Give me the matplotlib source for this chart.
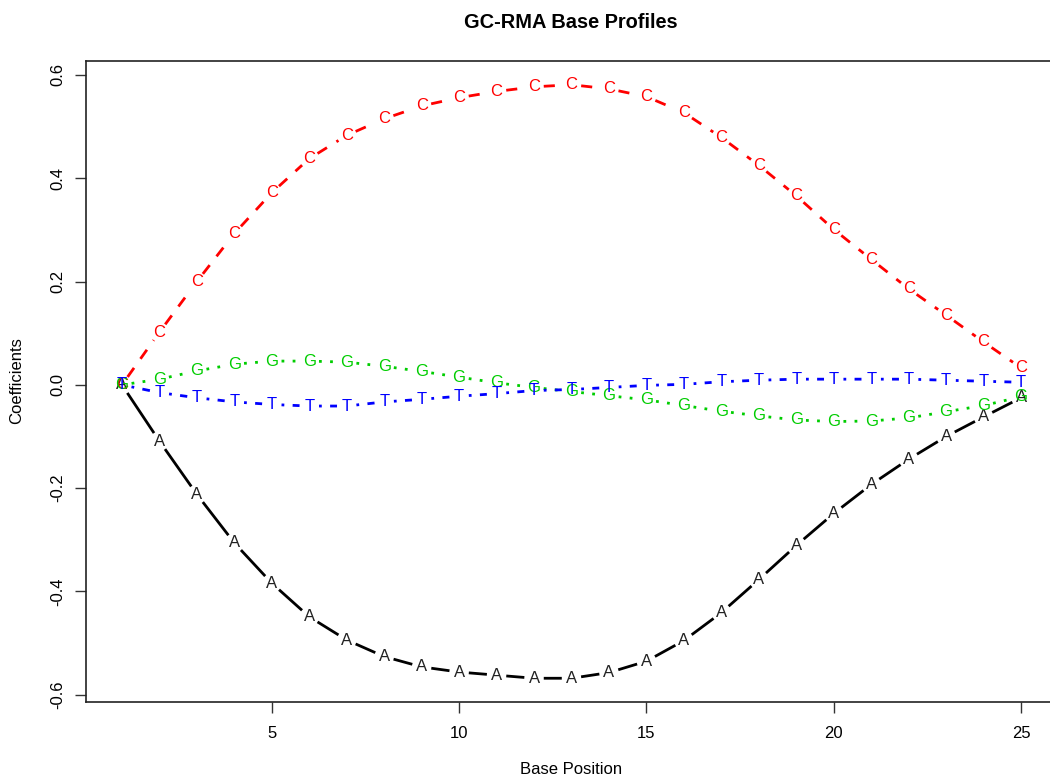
import matplotlib
matplotlib.use("Agg")
import matplotlib.pyplot as plt
import numpy as np

plt.rcParams['font.family'] = ['Liberation Sans', 'DejaVu Sans']

# Position-dependent base effects (GC-RMA probe affinity profile)
positions = list(range(1, 26))
coef_A = [0.0, -0.109, -0.212, -0.306, -0.384, -0.449, -0.494, -0.526, -0.546,
          -0.556, -0.562, -0.568, -0.568, -0.557, -0.535, -0.495, -0.441, -0.377,
          -0.311, -0.249, -0.193, -0.144, -0.100, -0.062, -0.025]
coef_C = [0.0, 0.102, 0.200, 0.293, 0.372, 0.438, 0.483, 0.515, 0.540,
          0.556, 0.568, 0.577, 0.581, 0.573, 0.558, 0.527, 0.479, 0.425,
          0.366, 0.301, 0.243, 0.186, 0.135, 0.083, 0.033]
coef_G = [0.0, 0.011, 0.027, 0.040, 0.046, 0.046, 0.044, 0.036, 0.026,
          0.015, 0.004, -0.005, -0.013, -0.021, -0.029, -0.040, -0.051, -0.060,
          -0.068, -0.071, -0.070, -0.064, -0.052, -0.040, -0.023]
coef_T = [0.0, -0.015, -0.025, -0.033, -0.038, -0.041, -0.041, -0.033, -0.028,
          -0.022, -0.017, -0.011, -0.009, -0.005, -0.001, 0.001, 0.006, 0.009,
          0.011, 0.011, 0.011, 0.011, 0.009, 0.007, 0.005]
bases = ['A', 'C', 'G', 'T']
series = [coef_A, coef_C, coef_G, coef_T]
colors = ['black', '#FF0000', '#00CD00', '#0000FF']
letter_colors = ['#222222', '#FF0000', '#00CD00', '#0000FF']
linestyles = ['solid', (0, (4, 4)), (0, (1, 3)), (0, (1, 3, 4, 3))]

x_ticks = [5, 10, 15, 20, 25]
y_ticks = [-0.6, -0.4, -0.2, 0.0, 0.2, 0.4, 0.6]

fig = plt.figure(figsize=(10.5, 7.82), dpi=100)
ax = fig.add_axes([86 / 1050, 1 - 702 / 782, (1057 - 86) / 1050, (702 - 61) / 782])

# R-style 4% axis expansion
xmin, xmax = min(positions), max(positions)
allv = np.concatenate([np.asarray(s) for s in series])
ymin, ymax = allv.min(), allv.max()
dx = 0.04 * (xmax - xmin)
dy = 0.04 * (ymax - ymin)
ax.set_xlim(xmin - dx, xmax + dx)
ax.set_ylim(ymin - dy, ymax + dy)

# type="b": segments broken around each plotted letter
for vals, col, lcol, ls, b in zip(series, colors, letter_colors, linestyles, bases):
    for i in range(len(positions) - 1):
        ax.annotate("", xy=(positions[i + 1], vals[i + 1]),
                    xytext=(positions[i], vals[i]),
                    arrowprops=dict(arrowstyle='-', color=col, lw=2.0,
                                    linestyle=ls, shrinkA=7, shrinkB=7,
                                    capstyle='butt'))
    for xp, yp in zip(positions, vals):
        ax.text(xp, yp, b, color=lcol, fontsize=12, ha='center', va='center')

ax.set_xticks(x_ticks)
ax.set_xticklabels([str(t) for t in x_ticks])
ax.set_yticks(y_ticks)
ax.set_yticklabels([f"{t:.1f}" for t in y_ticks], rotation=90, va='center')
ax.tick_params(axis='both', length=8, width=1, labelsize=12, color='#333333')
ax.tick_params(axis='x', pad=9.5)
ax.tick_params(axis='y', pad=7)
for sp in ax.spines.values():
    sp.set_linewidth(1.2)
    sp.set_color('#222222')

fig.text(571 / 1050, 1 - 22 / 782, "GC-RMA Base Profiles", fontsize=14.4,
         fontweight='bold', ha='center', va='center')
fig.text(571 / 1050, 1 - 770 / 782, "Base Position", fontsize=12,
         ha='center', va='center')
fig.text(17 / 1050, 1 - 381 / 782, "Coefficients", fontsize=12,
         ha='center', va='center', rotation=90)

fig.savefig("out.png", dpi=100)
